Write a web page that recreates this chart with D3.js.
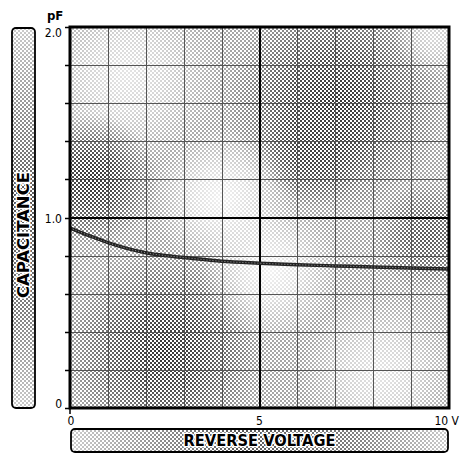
<!DOCTYPE html>
<html>
<head>
<meta charset="utf-8">
<script src="https://cdn.jsdelivr.net/npm/d3@7"></script>
<style>
  html, body { margin: 0; padding: 0; background: #fff; }
  svg { display: block; }
  text { font-family: "Liberation Sans Narrow", "DejaVu Sans Condensed", "Liberation Sans", sans-serif; fill: #000; }
</style>
</head>
<body>
<svg id="chart" width="460" height="456"></svg>
<script>
// Data
var voltage = [0, 0.5, 1, 1.5, 2, 2.5, 3, 4, 5, 6, 7, 8, 9, 10];
var capacitance = [0.945, 0.905, 0.868, 0.838, 0.815, 0.8, 0.79, 0.77, 0.76, 0.752, 0.746, 0.74, 0.735, 0.73];

var xTicks = [0, 1, 2, 3, 4, 5, 6, 7, 8, 9, 10];
var yTicks = [0, 0.2, 0.4, 0.6, 0.8, 1.0, 1.2, 1.4, 1.6, 1.8, 2.0];
var xLabels = ["0", "5", "10 V"];
var yLabels = ["0", "1.0", "2.0"];

// halftone shading spots (volts, pF, radius px, darkness 0..1)
var spotV = [1.5, 7.0, 4.0, 0.6, 2.5, 5.3, 8.2, 9.4, 9.6, 6.5];
var spotC = [1.75, 1.6, 1.1, 1.2, 0.3, 0.72, 0.18, 0.9, 1.95, 1.35];
var spotR = [95, 110, 70, 65, 100, 70, 80, 55, 40, 55];
var spotT = [0.1, 0.8, 0.05, 0.8, 0.8, 0.05, 0.1, 0.65, 0.15, 0.75];

var svg = d3.select("#chart");
var defs = svg.append("defs");

var x = d3.scaleLinear().domain([0, 10]).range([70, 449]);
var y = d3.scaleLinear().domain([0, 2]).range([408, 27]);

//Dot pattern
var pat = defs.append("pattern")
	.attr("id", "dots")
	.attr("patternUnits", "userSpaceOnUse")
	.attr("width", 4).attr("height", 4);
pat.append("rect").attr("x", 0).attr("y", 0).attr("width", 2).attr("height", 2).attr("fill", "#000");
pat.append("rect").attr("x", 2).attr("y", 2).attr("width", 2).attr("height", 2).attr("fill", "#000");

function grey(t){
	var v = Math.round(t * 255);
	return "rgb(" + v + "," + v + "," + v + ")";
}

//Mask for the plot shading
var mask = defs.append("mask").attr("id", "plotMask")
	.attr("maskUnits", "userSpaceOnUse")
	.attr("x", 0).attr("y", 0).attr("width", 460).attr("height", 456);
mask.append("rect")
	.attr("x", x(0)).attr("y", y(2))
	.attr("width", x(10) - x(0)).attr("height", y(0) - y(2))
	.attr("fill", grey(0.35));

spotV.forEach(function(v, i){
	var g = defs.append("radialGradient").attr("id", "spot" + i);
	g.append("stop").attr("offset", "0%").attr("stop-color", grey(spotT[i])).attr("stop-opacity", 1);
	g.append("stop").attr("offset", "40%").attr("stop-color", grey(spotT[i])).attr("stop-opacity", 0.75);
	g.append("stop").attr("offset", "100%").attr("stop-color", grey(spotT[i])).attr("stop-opacity", 0);
	mask.append("circle")
		.attr("cx", x(v)).attr("cy", y(spotC[i]))
		.attr("r", spotR[i])
		.attr("fill", "url(#spot" + i + ")");
});

defs.append("clipPath").attr("id", "plotClip")
	.append("rect")
	.attr("x", x(0)).attr("y", y(2))
	.attr("width", x(10) - x(0)).attr("height", y(0) - y(2));

//Plot shading
svg.append("g").attr("clip-path", "url(#plotClip)")
	.append("rect")
	.attr("x", x(0)).attr("y", y(2))
	.attr("width", x(10) - x(0)).attr("height", y(0) - y(2))
	.attr("fill", "url(#dots)")
	.attr("mask", "url(#plotMask)");

//Gridlines
var grid = svg.append("g").attr("class", "grid");
grid.selectAll(".vx")
	.data(xTicks.filter(function(d){ return d > 0 && d < 10 && d !== 5; }))
	.enter().append("line")
	.attr("x1", function(d){ return Math.round(x(d)) + 0.5; })
	.attr("x2", function(d){ return Math.round(x(d)) + 0.5; })
	.attr("y1", y(2)).attr("y2", y(0))
	.attr("stroke", "#555").attr("stroke-width", 1);

grid.selectAll(".hy")
	.data(yTicks.filter(function(d){ return d > 0.01 && d < 1.99 && Math.abs(d - 1) > 0.01; }))
	.enter().append("line")
	.attr("y1", function(d){ return Math.round(y(d)) + 0.5; })
	.attr("y2", function(d){ return Math.round(y(d)) + 0.5; })
	.attr("x1", x(0)).attr("x2", x(10))
	.attr("stroke", "#555").attr("stroke-width", 1);

//Heavy centre lines
grid.append("line")
	.attr("x1", Math.round(x(5))).attr("x2", Math.round(x(5)))
	.attr("y1", y(2)).attr("y2", y(0))
	.attr("stroke", "#000").attr("stroke-width", 2);
grid.append("line")
	.attr("y1", Math.round(y(1))).attr("y2", Math.round(y(1)))
	.attr("x1", x(0)).attr("x2", x(10))
	.attr("stroke", "#000").attr("stroke-width", 2);

//Curve
var line = d3.line()
	.x(function(d, i){ return x(voltage[i]); })
	.y(function(d){ return y(d); })
	.curve(d3.curveMonotoneX);

svg.append("path")
	.datum(capacitance)
	.attr("d", line)
	.attr("fill", "none")
	.attr("stroke", "#222")
	.attr("stroke-width", 3.5);
svg.append("path")
	.datum(capacitance)
	.attr("d", line)
	.attr("fill", "none")
	.attr("stroke", "#999")
	.attr("stroke-width", 1)
	.attr("stroke-dasharray", "1,2");

//Frame
svg.append("rect")
	.attr("x", x(0)).attr("y", y(2))
	.attr("width", x(10) - x(0)).attr("height", y(0) - y(2))
	.attr("fill", "none")
	.attr("stroke", "#000").attr("stroke-width", 3);

//Y ticks
svg.selectAll(".ytick")
	.data(yTicks)
	.enter().append("line")
	.attr("x1", x(0) - 5).attr("x2", x(0))
	.attr("y1", function(d){ return Math.round(y(d)) + 0.5; })
	.attr("y2", function(d){ return Math.round(y(d)) + 0.5; })
	.attr("stroke", "#000").attr("stroke-width", 1.5);

//X tick at origin
svg.append("line")
	.attr("x1", x(0)).attr("x2", x(0))
	.attr("y1", y(0)).attr("y2", y(0) + 6)
	.attr("stroke", "#000").attr("stroke-width", 1.5);

//Y labels
var yLabelVals = [0, 1, 2], yLabelShift = [0, 5, 10];
svg.selectAll(".ylab")
	.data(yLabels)
	.enter().append("text")
	.attr("x", x(0) - 8)
	.attr("y", function(d, i){ return y(yLabelVals[i]) + yLabelShift[i]; })
	.attr("text-anchor", "end")
	.attr("font-size", 12)
	.text(function(d){ return d; });

svg.append("text")
	.attr("x", 47).attr("y", 20)
	.attr("font-size", 13)
	.attr("font-weight", "bold")
	.text("pF");

//X labels
var xLabelVals = [0, 5, 10], xLabelAnchor = ["middle", "middle", "end"], xLabelShift = [1, 0, 10];
svg.selectAll(".xlab")
	.data(xLabels)
	.enter().append("text")
	.attr("x", function(d, i){ return x(xLabelVals[i]) + xLabelShift[i]; })
	.attr("y", 425)
	.attr("text-anchor", function(d, i){ return xLabelAnchor[i]; })
	.attr("font-size", 12)
	.text(function(d){ return d; });

//Axis title boxes
function titleBox(id, bx, by, bw, bh, vertical){
	var lg = defs.append("linearGradient").attr("id", id + "Grad")
		.attr("x1", 0).attr("y1", 0)
		.attr("x2", vertical ? 0 : 1).attr("y2", vertical ? 1 : 0);
	[[0, 0.2], [0.45, 0.65], [0.75, 0.5], [1, 0.2]].forEach(function(s){
		lg.append("stop").attr("offset", s[0]).attr("stop-color", grey(s[1]));
	});
	var m = defs.append("mask").attr("id", id + "Mask")
		.attr("maskUnits", "userSpaceOnUse")
		.attr("x", 0).attr("y", 0).attr("width", 460).attr("height", 456);
	m.append("rect").attr("x", bx).attr("y", by).attr("width", bw).attr("height", bh)
		.attr("fill", "url(#" + id + "Grad)");

	svg.append("rect")
		.attr("x", bx).attr("y", by).attr("width", bw).attr("height", bh)
		.attr("rx", 4)
		.attr("fill", "#fff");
	svg.append("rect")
		.attr("x", bx).attr("y", by).attr("width", bw).attr("height", bh)
		.attr("fill", "url(#dots)")
		.attr("mask", "url(#" + id + "Mask)");
	svg.append("rect")
		.attr("x", bx).attr("y", by).attr("width", bw).attr("height", bh)
		.attr("rx", 4)
		.attr("fill", "none")
		.attr("stroke", "#000").attr("stroke-width", 1.8);
}

titleBox("left", 12, 28, 23, 380, true);
titleBox("bottom", 71, 429, 377, 23, false);

svg.append("text")
	.attr("transform", "translate(29,235) rotate(-90)")
	.attr("text-anchor", "middle")
	.attr("font-family", "'Liberation Sans', Arial, sans-serif")
	.attr("font-size", 15)
	.attr("font-weight", "bold")
	.attr("textLength", 126)
	.attr("lengthAdjust", "spacingAndGlyphs")
	.attr("stroke", "#fff").attr("stroke-width", 2.5)
	.attr("paint-order", "stroke")
	.text("CAPACITANCE");

svg.append("text")
	.attr("x", x(5)).attr("y", 446)
	.attr("text-anchor", "middle")
	.attr("font-family", "'Liberation Sans', Arial, sans-serif")
	.attr("font-size", 15)
	.attr("font-weight", "bold")
	.attr("textLength", 152)
	.attr("lengthAdjust", "spacingAndGlyphs")
	.attr("stroke", "#fff").attr("stroke-width", 2.5)
	.attr("paint-order", "stroke")
	.text("REVERSE VOLTAGE");
</script>
</body>
</html>
